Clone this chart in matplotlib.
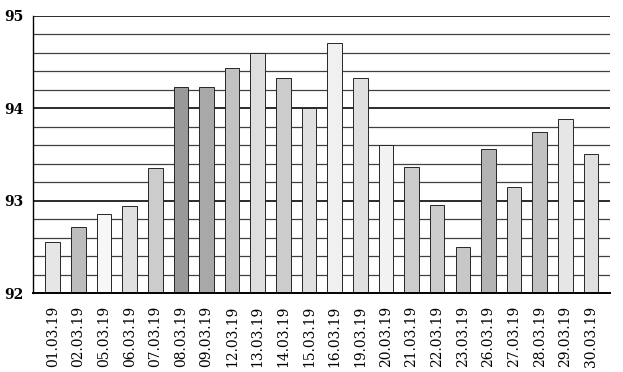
import matplotlib
matplotlib.use('Agg')
import numpy as np
import matplotlib.pyplot as plt

plt.rcParams['font.family'] = ['DejaVu Serif']

dates = ["01.03.19", "02.03.19", "05.03.19", "06.03.19", "07.03.19", "08.03.19",
         "09.03.19", "12.03.19", "13.03.19", "14.03.19", "15.03.19", "16.03.19",
         "19.03.19", "20.03.19", "21.03.19", "22.03.19", "23.03.19", "26.03.19",
         "27.03.19", "28.03.19", "29.03.19", "30.03.19"]
values = [92.55, 92.72, 92.86, 92.94, 93.35, 94.23, 94.23, 94.43, 94.60, 94.33,
          94.00, 94.70, 94.33, 93.60, 93.36, 92.95, 92.50, 93.56, 93.15, 93.74,
          93.88, 93.50]
# grey level of each bar's stipple (1 = white)
shades = [0.90, 0.74, 0.97, 0.88, 0.80, 0.60, 0.66, 0.76, 0.87, 0.80,
          0.88, 0.94, 0.88, 0.95, 0.80, 0.80, 0.78, 0.70, 0.83, 0.76,
          0.90, 0.88]

fig = plt.figure(figsize=(6.23, 3.72), dpi=100)
ax = fig.add_axes([0.053, 0.212, 0.926, 0.746])

x = np.arange(len(dates))
for val in np.arange(92.2, 95.01, 0.2):
    major = abs(val - round(val)) < 1e-6
    ax.axhline(val, color='0.1' if major else '0.25', lw=1.3 if major else 0.9, zorder=1)

ax.bar(x, np.array(values) - 92, bottom=92, width=0.57,
       color=[str(s) for s in shades], edgecolor='0.15', linewidth=0.7, zorder=2)

ax.set_ylim(92, 95)
ax.set_xlim(-0.77, len(dates) - 1 + 0.74)
ax.set_yticks([92, 93, 94, 95])
ax.set_yticklabels(['92', '93', '94', '95'], fontsize=10, fontweight='bold')
ax.set_xticks(x)
ax.set_xticklabels(dates, rotation=90, fontsize=10)
ax.tick_params(length=0)
ax.tick_params(axis='x', pad=9)
ax.tick_params(axis='y', pad=7)

for s in ['top', 'right']:
    ax.spines[s].set_visible(False)
ax.spines['left'].set_linewidth(1.0)
ax.spines['bottom'].set_linewidth(1.4)

fig.savefig('out.png', dpi=100)
